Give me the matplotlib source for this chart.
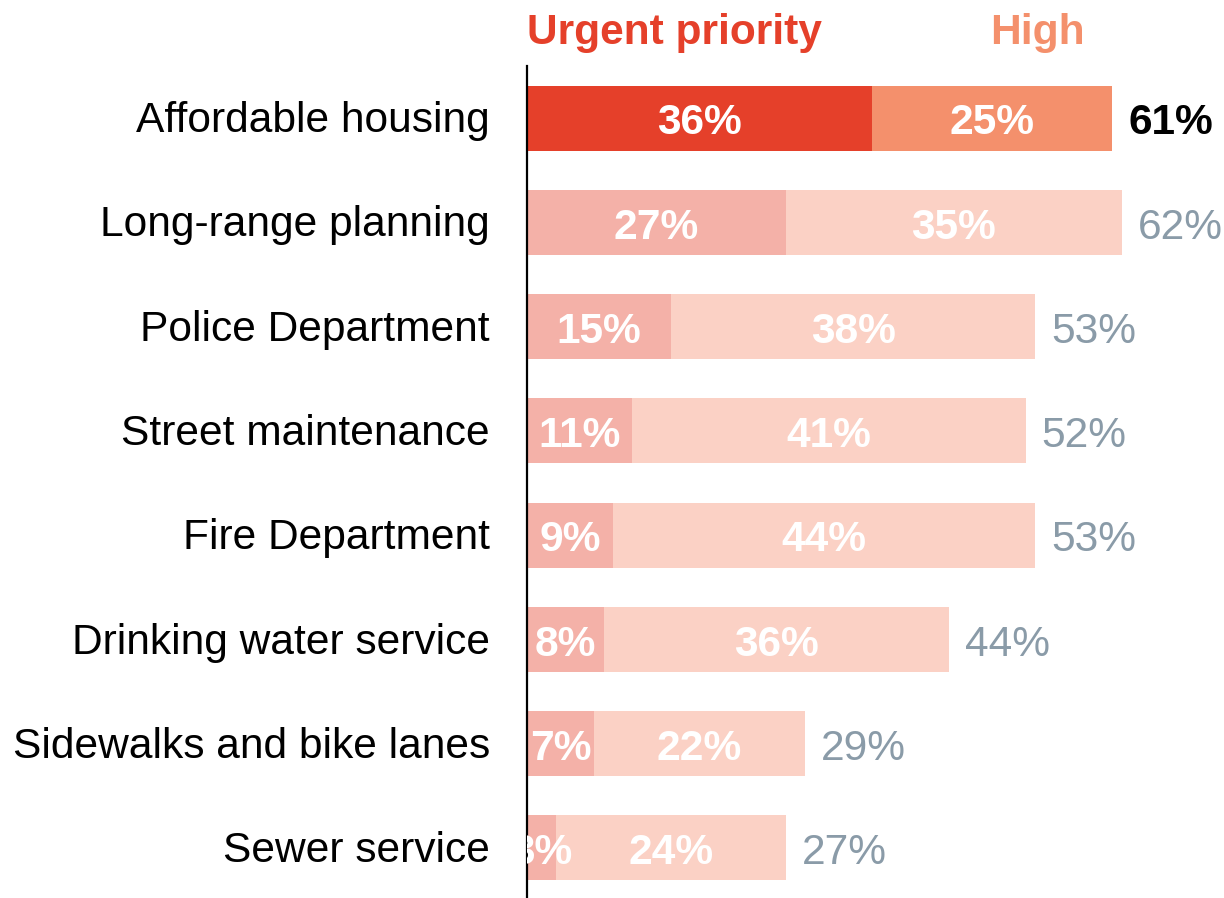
import matplotlib
matplotlib.use("Agg")
import matplotlib.pyplot as plt

categories = ["Affordable housing", "Long-range planning", "Police Department",
              "Street maintenance", "Fire Department", "Drinking water service",
              "Sidewalks and bike lanes", "Sewer service"]
urgent = [36, 27, 15, 11, 9, 8, 7, 3]
high = [25, 35, 38, 41, 44, 36, 22, 24]
total = [61, 62, 53, 52, 53, 44, 29, 27]
header_labels = ["Urgent priority", "High"]

plt.rcParams['font.family'] = ['Liberation Sans', 'DejaVu Sans']

RED = "#E5402A"
SALMON = "#F4906C"
PINK = "#F4B1A8"
LIGHT = "#FBD1C5"
GRAY = "#8A9BA8"

fig = plt.figure(figsize=(12.24, 8.98), dpi=100)
ax = fig.add_axes([527/1224, 0, 1 - 527/1224, 1 - 66/898])

PXU = 9.59  # pixels per percent
y = list(range(len(categories)))
h = 0.623
u_colors = [RED] + [PINK] * (len(categories) - 1)
h_colors = [SALMON] + [LIGHT] * (len(categories) - 1)
ax.barh(y, urgent, height=h, color=u_colors, linewidth=0)
ax.barh(y, high, left=urgent, height=h, color=h_colors, linewidth=0)

fs = 30.6
base = 0.155
for i in y:
    ax.text(urgent[i] / 2, i + base, f"{urgent[i]}%", ha='center', va='baseline',
            color='white', fontsize=fs, fontweight='bold', clip_on=True)
    ax.text(urgent[i] + high[i] / 2, i + base, f"{high[i]}%", ha='center', va='baseline',
            color='white', fontsize=fs, fontweight='bold', clip_on=True)
    if i == 0:
        ax.text(total[i] + 17 / PXU, i + base, f"{total[i]}%", ha='left', va='baseline',
                color='black', fontsize=fs, fontweight='bold')
    else:
        ax.text(total[i] + 16 / PXU, i + base, f"{total[i]}%", ha='left', va='baseline',
                color=GRAY, fontsize=fs)
    ax.text(-37 / PXU, i + 0.135, categories[i], ha='right', va='baseline',
            color='black', fontsize=fs, clip_on=False)

ax.text(0, -0.71, header_labels[0], ha='left', va='baseline', color=RED,
        fontsize=fs, fontweight='bold', clip_on=False)
ax.text(48.3, -0.71, header_labels[1], ha='left', va='baseline', color=SALMON,
        fontsize=fs, fontweight='bold', clip_on=False)

ax.set_xlim(0, 697 / PXU)
ax.set_ylim(7.48, -0.5)
ax.set_yticks([])
ax.set_xticks([])
for s in ['top', 'right', 'bottom']:
    ax.spines[s].set_visible(False)
ax.spines['left'].set_linewidth(1.6)
ax.spines['left'].set_color('black')

fig.savefig("out.png", dpi=100)
